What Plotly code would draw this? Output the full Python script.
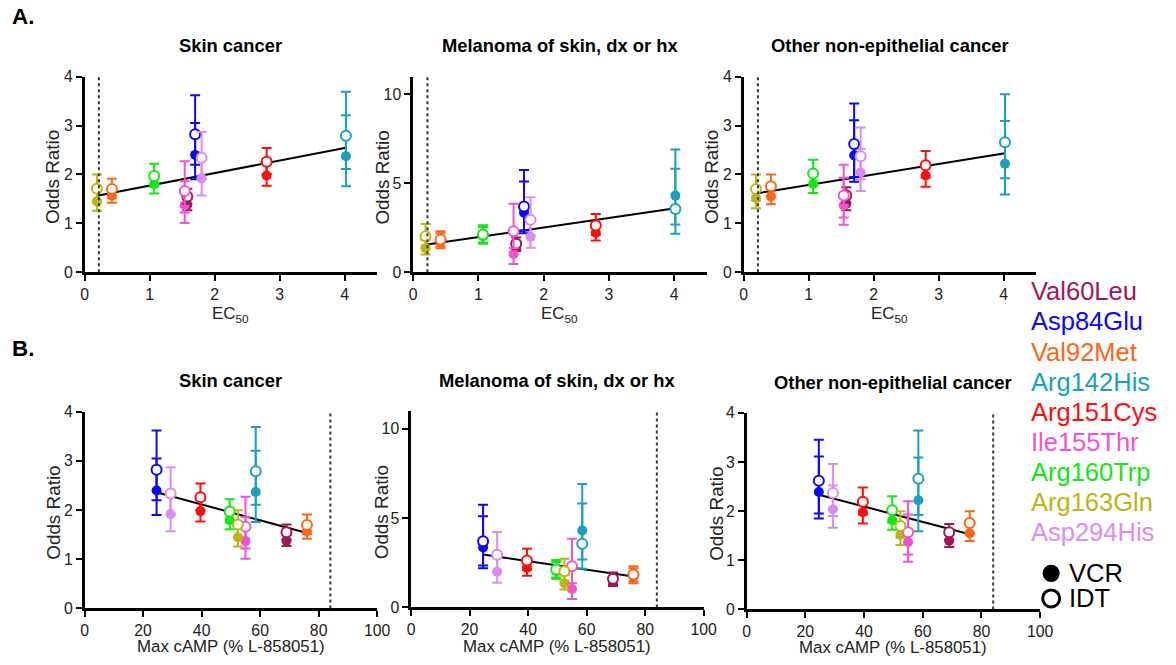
import numpy as np
import plotly.graph_objects as go

# ---------------- data ----------------
variants = ["Val60Leu", "Asp84Glu", "Val92Met", "Arg142His", "Arg151Cys",
            "Ile155Thr", "Arg160Trp", "Arg163Gln", "Asp294His"]
colors = ["#A0175A", "#0A0AF5", "#FF6414", "#1A9FBE", "#FF0D0D",
          "#F252D2", "#14E614", "#BDB511", "#DA8CF0"]

ec50 = [1.58, 1.70, 0.42, 4.02, 2.80, 1.54, 1.07, 0.19, 1.80]
max_camp = [69.0, 24.6, 76.0, 58.5, 39.6, 55.0, 49.6, 52.4, 29.4]

# Skin cancer
skin_vcr = [1.38, 2.40, 1.57, 2.37, 1.98, 1.37, 1.80, 1.45, 1.92]
skin_vcr_lo = [1.27, 1.90, 1.42, 1.76, 1.77, 1.01, 1.61, 1.26, 1.57]
skin_vcr_hi = [1.50, 3.05, 1.74, 3.21, 2.21, 1.86, 2.01, 1.67, 2.35]
skin_idt = [1.55, 2.82, 1.70, 2.79, 2.26, 1.66, 1.97, 1.71, 2.34]
skin_idt_lo = [1.40, 2.20, 1.51, 2.11, 2.01, 1.22, 1.75, 1.46, 1.90]
skin_idt_hi = [1.71, 3.62, 1.91, 3.69, 2.54, 2.27, 2.22, 2.00, 2.87]

# Melanoma of skin, dx or hx
mel_vcr = [1.45, 3.35, 1.72, 4.31, 2.22, 1.03, 2.03, 1.35, 2.00]
mel_vcr_lo = [1.20, 2.20, 1.35, 2.68, 1.78, 0.47, 1.60, 1.00, 1.38]
mel_vcr_hi = [1.75, 5.10, 2.20, 6.90, 2.75, 2.20, 2.55, 1.80, 2.90]
mel_idt = [1.60, 3.70, 1.85, 3.56, 2.63, 2.30, 2.12, 2.03, 2.95]
mel_idt_lo = [1.30, 2.35, 1.45, 2.16, 2.10, 1.35, 1.68, 1.50, 2.05]
mel_idt_hi = [1.95, 5.75, 2.30, 5.82, 3.28, 3.85, 2.65, 2.72, 4.22]

# Other non-epithelial cancer
oth_vcr = [1.40, 2.39, 1.55, 2.22, 1.98, 1.37, 1.81, 1.52, 2.04]
oth_vcr_lo = [1.27, 1.85, 1.39, 1.59, 1.75, 0.97, 1.62, 1.31, 1.66]
oth_vcr_hi = [1.55, 3.11, 1.74, 3.09, 2.23, 1.93, 2.03, 1.76, 2.52]
oth_idt = [1.57, 2.62, 1.76, 2.66, 2.19, 1.57, 2.02, 1.70, 2.37]
oth_idt_lo = [1.42, 1.95, 1.55, 1.92, 1.93, 1.12, 1.77, 1.46, 1.90]
oth_idt_hi = [1.74, 3.45, 2.00, 3.64, 2.48, 2.20, 2.30, 2.00, 2.96]

diseases = {
    "Skin cancer": (skin_vcr, skin_vcr_lo, skin_vcr_hi, skin_idt, skin_idt_lo, skin_idt_hi),
    "Melanoma of skin, dx or hx": (mel_vcr, mel_vcr_lo, mel_vcr_hi, mel_idt, mel_idt_lo, mel_idt_hi),
    "Other non-epithelial cancer": (oth_vcr, oth_vcr_lo, oth_vcr_hi, oth_idt, oth_idt_lo, oth_idt_hi),
}

ec50_threshold = 0.22
camp_threshold = 84

# ---------------- layout helpers ----------------
W, H = 1176, 665
SX, SY = 0.987, 0.971   # calibration of the photographed page
CX, CY = 591.4, 332.5
FONT = "Liberation Sans, Arial, sans-serif"
FS = 1.02


def px(x):
    return (CX + (x - W / 2) / SX) / W


def py(y):
    return 1 - (CY + (y - H / 2) / SY) / H


panels = [
    # (disease, metric, xdom px, ydom px, xrange, dtick x, yrange, dtick y, title y, xtitle y, ytitle x)
    ("Skin cancer", "ec50", (85, 378), (78, 273), [0, 4.5], 1, [0, 4], 1, 47, 315, 53),
    ("Melanoma of skin, dx or hx", "ec50", (414, 708), (78, 273), [0, 4.5], 1, [0, 11], 5, 47, 315, 383),
    ("Other non-epithelial cancer", "ec50", (745, 1038), (78, 273), [0, 4.5], 1, [0, 4], 1, 47, 315, 713),
    ("Skin cancer", "camp", (85, 378), (412, 608), [0, 100], 20, [0, 4], 1, 381, 646, 53),
    ("Melanoma of skin, dx or hx", "camp", (412, 705), (411, 607), [0, 100], 20, [0, 11], 5, 381, 646, 382),
    ("Other non-epithelial cancer", "camp", (748, 1042), (413, 609), [0, 100], 20, [0, 4], 1, 383, 647, 717),
]

fig = go.Figure()
annotations = []
shapes = []
layout_axes = {}

for i, (dis, metric, xd, yd, xr, dtx, yr, dty, ty, xty, ytx) in enumerate(panels, start=1):
    xa = "x" if i == 1 else f"x{i}"
    ya = "y" if i == 1 else f"y{i}"
    xs = ec50 if metric == "ec50" else max_camp
    vcr, vlo, vhi, idt, ilo, ihi = diseases[dis]

    # regression line fitted on VCR + IDT points together
    allx = np.array(list(xs) + list(xs))
    ally = np.array(list(vcr) + list(idt))
    slope, intercept = np.polyfit(allx, ally, 1)
    lx = np.array([allx.min(), allx.max()])
    fig.add_trace(go.Scatter(x=lx, y=slope * lx + intercept, mode="lines",
                             line=dict(color="black", width=2),
                             xaxis=xa, yaxis=ya, showlegend=False, hoverinfo="skip"))

    for k in range(len(variants)):
        c = colors[k]
        fig.add_trace(go.Scatter(
            x=[xs[k]], y=[vcr[k]], mode="markers",
            marker=dict(color=c, size=10, line=dict(width=0)),
            error_y=dict(type="data", symmetric=False,
                         array=[vhi[k] - vcr[k]], arrayminus=[vcr[k] - vlo[k]],
                         color=c, thickness=2, width=5),
            xaxis=xa, yaxis=ya, showlegend=False, name=variants[k] + " VCR"))
    for k in range(len(variants)):
        c = colors[k]
        fig.add_trace(go.Scatter(
            x=[xs[k]], y=[idt[k]], mode="markers",
            marker=dict(color="white", size=10, line=dict(color=c, width=2)),
            error_y=dict(type="data", symmetric=False,
                         array=[ihi[k] - idt[k]], arrayminus=[idt[k] - ilo[k]],
                         color=c, thickness=2, width=5),
            xaxis=xa, yaxis=ya, showlegend=False, name=variants[k] + " IDT"))

    axis_common = dict(showline=True, linecolor="black", linewidth=2.5,
                       ticks="outside", ticklen=6, tickwidth=2, tickcolor="black",
                       showgrid=False, zeroline=False,
                       tickfont=dict(family=FONT, size=15.5 * FS, color="#222"))
    layout_axes["xaxis" if i == 1 else f"xaxis{i}"] = dict(
        domain=[px(xd[0]), px(xd[1])], range=xr, dtick=dtx, tick0=0,
        anchor=ya, **axis_common)
    layout_axes["yaxis" if i == 1 else f"yaxis{i}"] = dict(
        domain=[py(yd[1]), py(yd[0])], range=yr, dtick=dty, tick0=0,
        anchor=xa, **axis_common)

    thr = ec50_threshold if metric == "ec50" else camp_threshold
    shapes.append(dict(type="line", xref=xa, yref=f"{ya} domain",
                       x0=thr, x1=thr, y0=0, y1=1,
                       line=dict(color="#333", width=2, dash="dot")))

    cx = (xd[0] + xd[1]) / 2
    annotations.append(dict(text=f"<b>{dis}</b>", x=px(cx), y=py(ty), xref="paper", yref="paper",
                            showarrow=False, xanchor="center", yanchor="middle",
                            font=dict(family=FONT, size=18 * FS, color="black")))
    xt = "EC<sub>50</sub>" if metric == "ec50" else "Max cAMP (% L-858051)"
    annotations.append(dict(text=xt, x=px(cx), y=py(xty), xref="paper", yref="paper",
                            showarrow=False, xanchor="center", yanchor="middle",
                            font=dict(family=FONT, size=16.5 * FS, color="#222")))
    annotations.append(dict(text="Odds Ratio", x=px(ytx), y=py((yd[0] + yd[1]) / 2 + 3),
                            xref="paper", yref="paper", textangle=-90,
                            showarrow=False, xanchor="center", yanchor="middle",
                            font=dict(family=FONT, size=18.5 * FS, color="#222")))

annotations.append(dict(text="<b>A.</b>", x=px(10), y=py(18), xref="paper", yref="paper",
                        showarrow=False, xanchor="left", yanchor="middle",
                        font=dict(family=FONT, size=22 * FS, color="black")))
annotations.append(dict(text="<b>B.</b>", x=px(10), y=py(349), xref="paper", yref="paper",
                        showarrow=False, xanchor="left", yanchor="middle",
                        font=dict(family=FONT, size=22 * FS, color="black")))

for k, (name, c) in enumerate(zip(variants, colors)):
    annotations.append(dict(text=name, x=px(1031), y=py(292 + 30 * k), xref="paper", yref="paper",
                            showarrow=False, xanchor="left", yanchor="middle",
                            font=dict(family=FONT, size=25 * FS, color=c)))

for j, (lab, filled) in enumerate([("VCR", True), ("IDT", False)]):
    cy = 573 + 25 * j
    r = 8.5
    shapes.append(dict(type="circle", xref="paper", yref="paper",
                       x0=px(1053 - r), x1=px(1053 + r), y0=py(cy + r), y1=py(cy - r),
                       fillcolor="black" if filled else "white",
                       line=dict(color="black", width=0 if filled else 3)))
    annotations.append(dict(text=lab, x=px(1069), y=py(cy), xref="paper", yref="paper",
                            showarrow=False, xanchor="left", yanchor="middle",
                            font=dict(family=FONT, size=25 * FS, color="black")))

fig.update_layout(width=W, height=H, margin=dict(l=0, r=0, t=0, b=0),
                  paper_bgcolor="white", plot_bgcolor="white",
                  annotations=annotations, shapes=shapes, **layout_axes)

fig.write_html("out.html", config={"displayModeBar": False},
               post_script="document.body.style.margin='0';document.body.style.overflow='hidden';")
